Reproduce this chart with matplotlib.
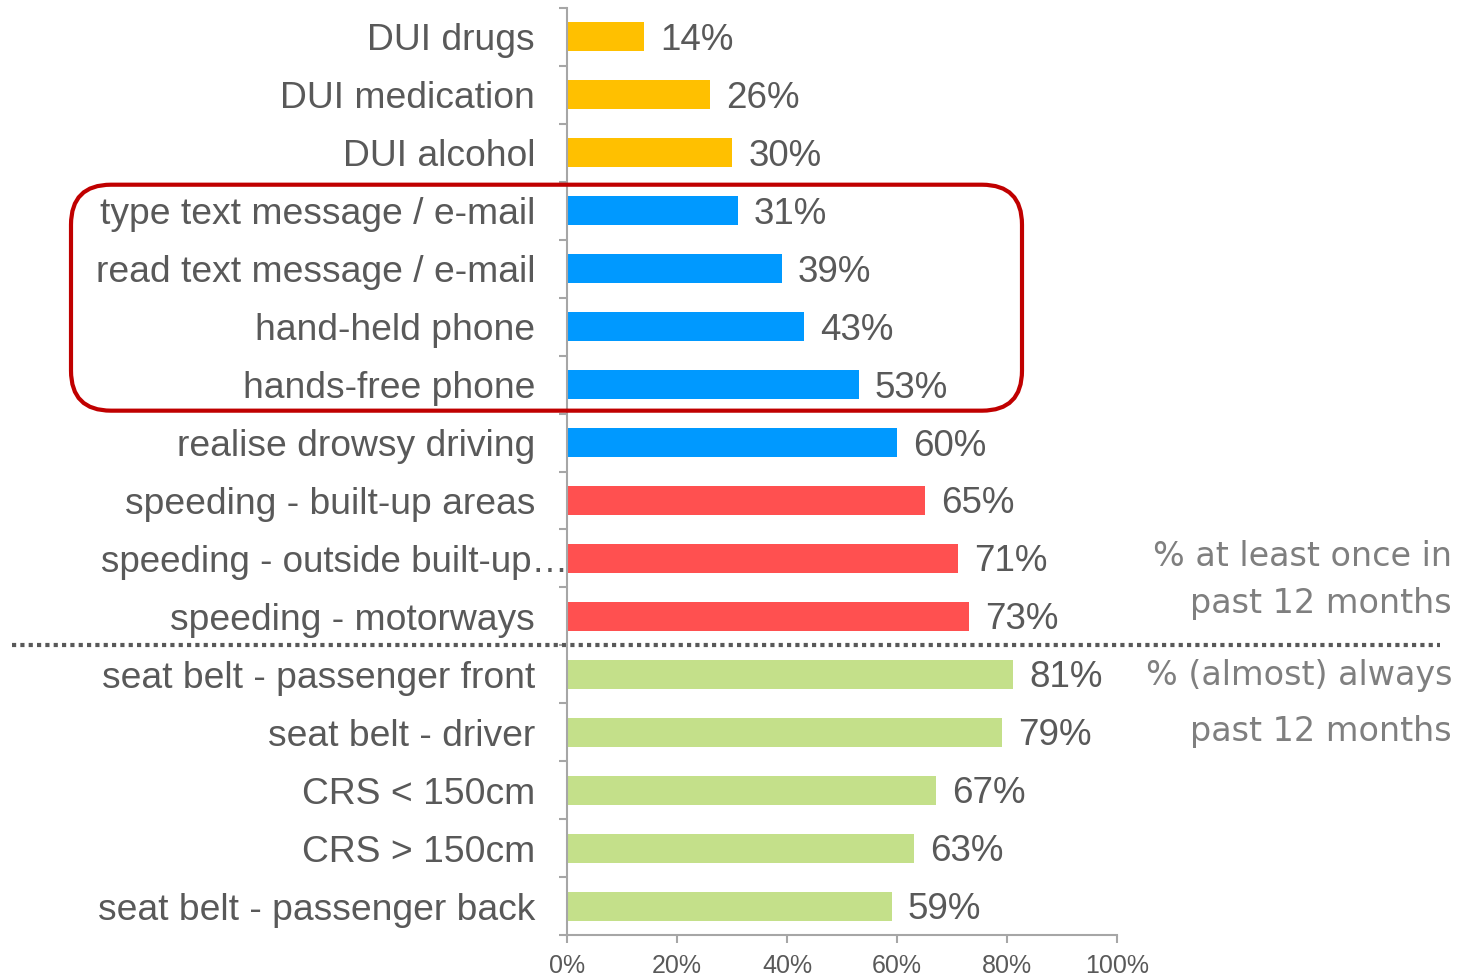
import numpy as np
import matplotlib.pyplot as plt
from matplotlib.patches import FancyBboxPatch
from matplotlib.transforms import blended_transform_factory, IdentityTransform

categories = [
    "DUI drugs", "DUI medication", "DUI alcohol",
    "type text message / e-mail", "read text message / e-mail",
    "hand-held phone", "hands-free phone", "realise drowsy driving",
    "speeding - built-up areas", "speeding - outside built-up\u2026",
    "speeding - motorways",
    "seat belt - passenger front", "seat belt - driver",
    "CRS < 150cm", "CRS > 150cm", "seat belt - passenger back",
]
values = [14, 26, 30, 31, 39, 43, 53, 60, 65, 71, 73, 81, 79, 67, 63, 59]
groups = ["dui"] * 3 + ["distr"] * 5 + ["speed"] * 3 + ["belt"] * 5
group_colors = {"dui": "#FFC000", "distr": "#0099FF",
                "speed": "#FF5050", "belt": "#C4E08A"}
x_ticks = [0, 20, 40, 60, 80, 100]

text_col = "#595959"
axis_col = "#A6A6A6"
plt.rcParams['font.family'] = ['Liberation Sans', 'DejaVu Sans']

fig = plt.figure(figsize=(14.7, 9.77), dpi=100)
ax = fig.add_axes([567 / 1470, 1 - 935 / 977, 550 / 1470, 927 / 977])

y = np.arange(len(categories))
ax.barh(y, values, height=0.5, color=[group_colors[g] for g in groups])
ax.set_ylim(len(categories) - 0.5, -0.5)
ax.set_xlim(0, 100)

for yi, v in zip(y, values):
    ax.text(v + 3, yi + 0.06, f"{v}%", va="center", ha="left",
            fontsize=26.5, color=text_col)

# the truncated label overruns the usual gap, so it is drawn on its own
long_idx = 9
labels = list(categories)
labels[long_idx] = ""
ax.set_yticks(y)
ax.set_yticklabels(labels, fontsize=26.8, color=text_col)
ax.tick_params(axis="y", which="major", length=0, pad=23)
ax.set_yticks(np.arange(len(categories) + 1) - 0.5, minor=True)
ax.tick_params(axis="y", which="minor", length=6, width=1.5, color=axis_col)
lab_trans = blended_transform_factory(ax.transAxes, ax.transData)
ax.text(0.003, long_idx, categories[long_idx], transform=lab_trans,
        ha="right", va="center_baseline", fontsize=26.5, color=text_col,
        clip_on=False)

ax.set_xticks(x_ticks)
ax.set_xticklabels([f"{t}%" for t in x_ticks], fontsize=18, color=text_col)
ax.tick_params(axis="x", length=6, width=1.5, color=axis_col, pad=8)

for s in ["top", "right"]:
    ax.spines[s].set_visible(False)
for s in ["left", "bottom"]:
    ax.spines[s].set_color(axis_col)
    ax.spines[s].set_linewidth(1.5)

# dotted separator between the two question types
trans = blended_transform_factory(fig.transFigure, ax.transData)
ax.plot([12 / 1470, 1440 / 1470], [10.5, 10.5], transform=trans,
        clip_on=False, color="#595959", lw=3, linestyle=(0, (1, 1)))

# right-hand notes
note_col = "#7F7F7F"
notes = [(557, "% at least once in"), (603, "past 12 months"),
         (676, "% (almost) always"), (731, "past 12 months")]
for ypx, txt in notes:
    fig.text(1452 / 1470, 1 - ypx / 977, txt, ha="right", va="center",
             fontsize=24, color=note_col, family="DejaVu Sans")

# rounded highlight box around phone items
top_px = ax.transData.transform((0, 2.55))[1]
bot_px = ax.transData.transform((0, 6.45))[1]
box = FancyBboxPatch((71, bot_px), 1022 - 71, top_px - bot_px,
                     boxstyle="round,pad=0,rounding_size=40",
                     transform=IdentityTransform(), fill=False,
                     edgecolor="#C00000", lw=3, clip_on=False)
fig.patches.append(box)

fig.savefig("out.png", dpi=100)
